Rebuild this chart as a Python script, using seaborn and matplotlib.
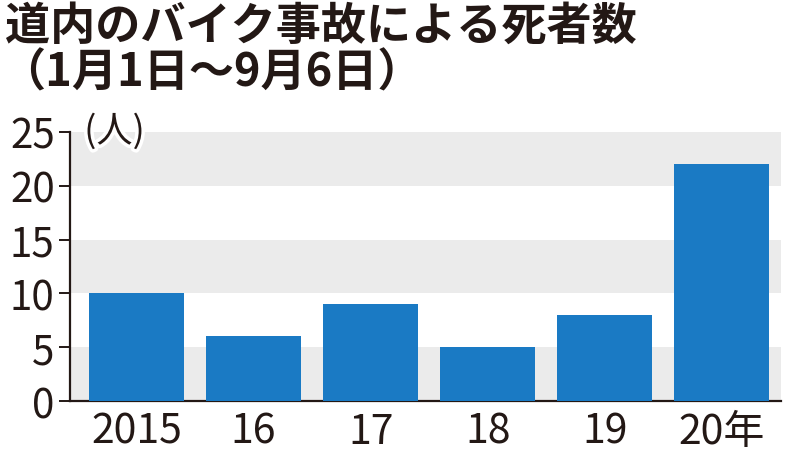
import matplotlib
matplotlib.use("Agg")
import matplotlib.pyplot as plt
import matplotlib.patheffects as pe
import seaborn as sns
import pandas as pd

years = ["2015", "16", "17", "18", "19", "20年"]
deaths = [10, 6, 9, 5, 8, 22]
yticks = [0, 5, 10, 15, 20, 25]
title_lines = ["道内のバイク事故による死者数", "（1月1日～9月6日）"]
unit_label = "(人)"

sns.set_theme(style="white")
plt.rcParams["font.family"] = ["Noto Sans CJK JP", "DejaVu Sans"]

ink = "#231815"
bar_color = "#1a7ac4"
band_color = "#ebebeb"

fig = plt.figure(figsize=(8, 4.6), dpi=100)
ax = fig.add_axes([0.0875, 0.126, 0.8885, 0.585])

df = pd.DataFrame({"year": years, "deaths": deaths})
sns.barplot(data=df, x="year", y="deaths", color=bar_color, saturation=1,
            width=0.81, ax=ax, zorder=3, linewidth=0, edgecolor=bar_color)

for lo in (0, 10, 20):
    ax.axhspan(lo, lo + 5, color=band_color, zorder=0, lw=0)

ax.set_ylim(0, 25)
ax.set_xlim(-0.568, 5.504)
ax.set_yticks(yticks)
ax.set_yticklabels([str(t) for t in yticks])
ax.set_xlabel("")
ax.set_ylabel("")

for s in ("top", "right"):
    ax.spines[s].set_visible(False)
for s in ("left", "bottom"):
    ax.spines[s].set_color(ink)
    ax.spines[s].set_linewidth(1.6)

ax.tick_params(axis="y", left=True, length=8, width=1.4, color=ink,
               labelsize=29, labelcolor=ink, pad=3)
ax.tick_params(axis="x", bottom=False, labelsize=29.5, labelcolor=ink, pad=1)

ax.text(0.02, 25, unit_label, transform=ax.get_yaxis_transform(),
        fontsize=26, color=ink, va="center", ha="left", zorder=5,
        path_effects=[pe.withStroke(linewidth=5, foreground="white")])

fig.text(0.006, 1 - 27 / 460, title_lines[0], fontsize=32.5, fontweight="bold",
         color=ink, va="center", ha="left")
fig.text(0.0, 1 - 73 / 460, title_lines[1], fontsize=32.5, fontweight="bold",
         color=ink, va="center", ha="left")

fig.savefig("out.png", dpi=100, facecolor="white")
